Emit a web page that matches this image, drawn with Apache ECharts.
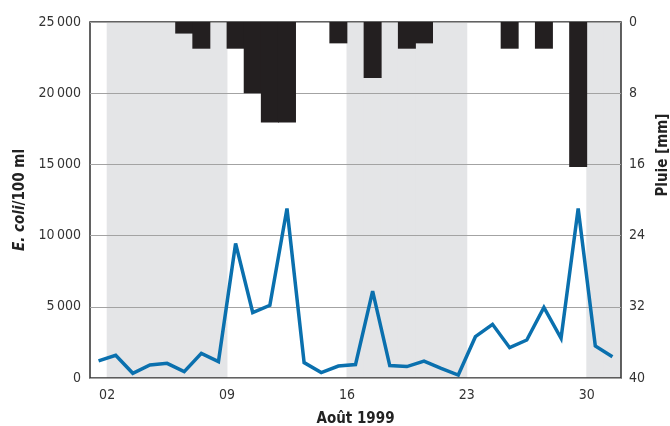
<!DOCTYPE html>
<html>
<head>
<meta charset="utf-8">
<title>E. coli et pluie, août 1999</title>
<style>
    html, body { margin: 0; padding: 0; background: #fff; }
    #main { width: 670px; height: 426px; }
</style>
</head>
<body>
    <div id="main"></div>
    <script src="https://cdn.jsdelivr.net/npm/echarts@6/dist/echarts.min.js"></script>
    <script type="text/javascript">
        // jours du mois d'août 1999
        var days = ['1', '2', '3', '4', '5', '6', '7', '8', '9', '10', '11', '12', '13', '14', '15', '16',
                    '17', '18', '19', '20', '21', '22', '23', '24', '25', '26', '27', '28', '29', '30', '31'];
        // E. coli / 100 ml
        var ecoli = [1200, 1600, 330, 910, 1030, 450, 1730, 1150, 9450, 4600, 5100, 11900, 1080, 380, 840, 940,
                     6100, 870, 800, 1190, 680, 210, 2900, 3770, 2130, 2670, 4950, 2790, 11900, 2250, 1500];
        // pluie journalière [mm]
        var pluie = [0, 0, 0, 0, 0, 1.3, 3, 0, 3, 8, 11.3, 11.3, 0, 0, 2.4, 0,
                     6.3, 0, 3, 2.4, 0, 0, 0, 0, 3, 0, 3, 0, 16.3, 0, 0];
        // semaines grisées
        var shadedDays = [2, 3, 4, 5, 6, 7, 8, 16, 17, 18, 19, 20, 21, 22, 30, 31];
        // étiquettes de l'axe des x (en début de jour)
        var tickDays = [2, 9, 16, 23, 30];

        var font = "'Liberation Sans Narrow', 'DejaVu Sans Condensed', 'Roboto', sans-serif";
        var yMax = 25000;

        var bands = days.map(function (d) {
            return shadedDays.indexOf(Number(d)) >= 0 ? yMax : '-';
        });

        function thousands(v) {
            return v >= 1000 ? Math.floor(v / 1000) + '\u2009' + ('00' + (v % 1000)).slice(-3) : String(v);
        }

        var myChart = echarts.init(document.getElementById('main'));
        var option = {
            animation: false,
            textStyle: { fontFamily: font },
            grid: {
                left: 90,
                right: 49,
                top: 22,
                bottom: 48,
                outerBoundsMode: 'none',
                show: true,
                borderColor: '#2f2f2f',
                borderWidth: 1.5,
                backgroundColor: 'transparent'
            },
            xAxis: [
                {
                    type: 'category',
                    data: days,
                    boundaryGap: true,
                    axisLine: { show: false },
                    axisTick: { show: false },
                    axisLabel: { show: false }
                },
                {
                    type: 'value',
                    position: 'bottom',
                    min: 1,
                    max: 32,
                    name: 'Août 1999',
                    nameLocation: 'middle',
                    nameGap: 34,
                    nameTextStyle: { fontSize: 15, color: '#222', fontFamily: font, fontWeight: 'bold' },
                    axisLine: { show: false },
                    axisTick: { show: false },
                    splitLine: { show: false },
                    axisLabel: {
                        customValues: tickDays,
                        margin: 10,
                        fontSize: 14,
                        color: '#333',
                        fontFamily: font,
                        formatter: function (v) { return ('0' + v).slice(-2); }
                    }
                }
            ],
            yAxis: [
                {
                    type: 'value',
                    min: 0,
                    max: yMax,
                    interval: 5000,
                    name: '{i|E. coli}/100 ml',
                    nameLocation: 'middle',
                    nameGap: 61,
                    nameTextStyle: {
                        fontSize: 15, color: '#222', fontFamily: font, fontWeight: 'bold',
                        rich: { i: { fontSize: 15, color: '#222', fontFamily: font, fontStyle: 'italic', fontWeight: 'bold' } }
                    },
                    axisLine: { show: false },
                    axisTick: { show: false },
                    axisLabel: { margin: 9, fontSize: 14, color: '#333', fontFamily: font, formatter: thousands },
                    splitLine: { lineStyle: { color: '#a3a3a3', width: 1.2 } }
                },
                {
                    type: 'value',
                    min: 0,
                    max: 40,
                    interval: 8,
                    inverse: true,
                    name: 'Pluie [mm]',
                    nameLocation: 'middle',
                    nameRotate: 90,
                    nameGap: 29,
                    nameTextStyle: { fontSize: 15, color: '#222', fontFamily: font, fontWeight: 'bold', padding: [0, 0, 0, 90] },
                    axisLine: { show: false },
                    axisTick: { show: false },
                    axisLabel: { margin: 8, fontSize: 14, color: '#333', fontFamily: font },
                    splitLine: { show: false }
                }
            ],
            series: [
                {
                    name: 'semaine',
                    type: 'bar',
                    xAxisIndex: 0,
                    yAxisIndex: 0,
                    data: bands,
                    // un peu plus large que la catégorie pour éviter les joints blancs
                    barWidth: '105%',
                    barGap: '-100%',
                    z: -1,
                    silent: true,
                    itemStyle: { color: '#e4e5e7' }
                },
                {
                    name: 'Pluie',
                    type: 'bar',
                    xAxisIndex: 0,
                    yAxisIndex: 1,
                    data: pluie,
                    barWidth: '105%',
                    barGap: '-100%',
                    itemStyle: { color: '#231f20' }
                },
                {
                    name: 'E. coli',
                    type: 'line',
                    xAxisIndex: 0,
                    yAxisIndex: 0,
                    data: ecoli,
                    symbol: 'none',
                    lineStyle: { color: '#0a70ae', width: 3.5, join: 'miter', miterLimit: 4 }
                }
            ]
        };
        myChart.setOption(option);
    </script>
</body>
</html>
